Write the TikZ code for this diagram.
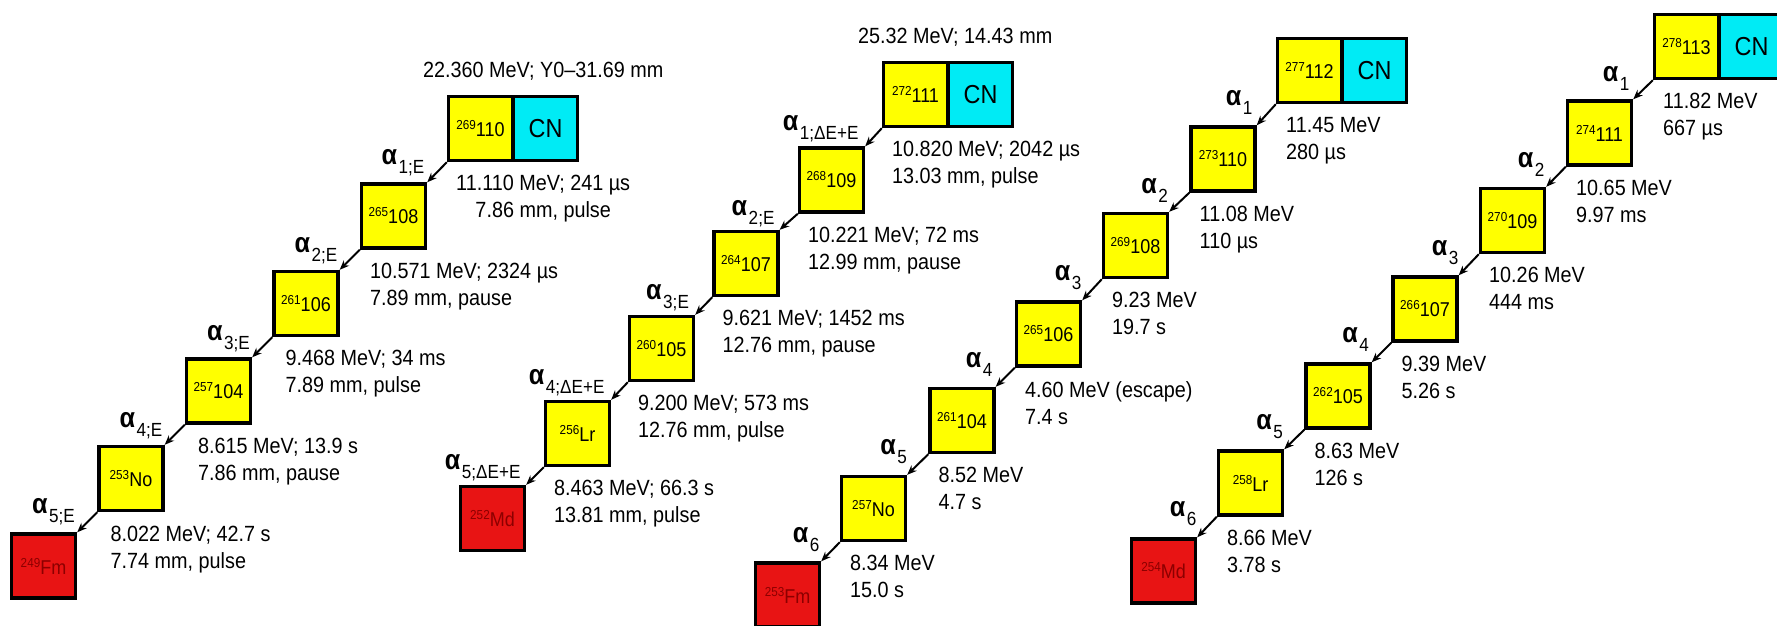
\documentclass[tikz,border=0pt]{standalone}
\usepackage{fontspec}
\setmainfont{Liberation Sans}[FakeStretch=0.9]
\usetikzlibrary{arrows.meta}
\definecolor{nucyel}{RGB}{255,255,0}
\definecolor{nuccyan}{RGB}{0,235,245}
\definecolor{nucred}{RGB}{232,20,20}
\definecolor{nucredtext}{RGB}{140,0,0}
\newcommand\nuc[2]{\raisebox{3.5pt}{\fontsize{6.5}{6.5}\selectfont #1}#2}
\newcommand\alab[1]{{\fontsize{14}{14}\selectfont\bfseries α}\hspace{0.8pt}\raisebox{-4.5pt}{\fontsize{9.5}{10}\selectfont #1}}
\begin{document}
\begin{tikzpicture}[x=0.5pt,y=-0.5pt,
  nucbox/.style={draw=black, line width=1.7pt, minimum size=32pt, inner sep=0pt, fill=nucyel, font=\fontsize{10}{12}\selectfont},
  redbox/.style={nucbox, fill=nucred, text=nucredtext},
  cnbox/.style={nucbox, fill=nuccyan, font=\fontsize{13}{14}\selectfont},
  arr/.style={line width=1pt, -{Stealth[length=4.8pt,width=3.8pt]}},
  decaytxt/.style={anchor=north west, align=left, inner sep=0pt, font=\fontsize{11}{13.5}\selectfont},
  toplab/.style={anchor=base west, inner sep=0pt, font=\fontsize{11}{13.5}\selectfont},
  alphalab/.style={anchor=base east, inner sep=0pt},
]
\useasboundingbox (0,0) rectangle (1777,626);
\clip (0,0) rectangle (1777,626);

% ---------------- chain 1 ----------------
\node[nucbox] (c1a) at (480.5,128.5) {\nuc{269}{110}};
\node[cnbox] (c1cn) at (545.5,128.5) {CN};
\node[nucbox] (c1b) at (393.5,216) {\nuc{265}{108}};
\node[nucbox] (c1c) at (306,303.5) {\nuc{261}{106}};
\node[nucbox] (c1d) at (218.5,391) {\nuc{257}{104}};
\node[nucbox] (c1e) at (131,478.5) {\nuc{253}{No}};
\node[redbox] (c1f) at (43.5,566) {\nuc{249}{Fm}};
\draw[arr] (c1a.south west) -- (c1b.north east);
\draw[arr] (c1b.south west) -- (c1c.north east);
\draw[arr] (c1c.south west) -- (c1d.north east);
\draw[arr] (c1d.south west) -- (c1e.north east);
\draw[arr] (c1e.south west) -- (c1f.north east);
\node[toplab] (c1top) at ([shift={(-24,-17)}]c1a.north west) {22.360 MeV; Y0–31.69 mm};
\node[decaytxt, align=center] (c1t1) at ([shift={(9,13)}]c1a.south west) {11.110 MeV; 241 µs\\7.86 mm, pulse};
\node[decaytxt] (c1t2) at ([shift={(10,13)}]c1b.south west) {10.571 MeV; 2324 µs\\7.89 mm, pause};
\node[decaytxt] (c1t3) at ([shift={(13,13)}]c1c.south west) {9.468 MeV; 34 ms\\7.89 mm, pulse};
\node[decaytxt] (c1t4) at ([shift={(13,13)}]c1d.south west) {8.615 MeV; 13.9 s\\7.86 mm, pause};
\node[decaytxt] (c1t5) at ([shift={(13,14)}]c1e.south west) {8.022 MeV; 42.7 s\\7.74 mm, pulse};
\node[alphalab] (c1l1) at ([shift={(-22,2)}]c1a.south west) {\alab{1;E}};
\node[alphalab] (c1l2) at ([shift={(-22,3)}]c1b.south west) {\alab{2;E}};
\node[alphalab] (c1l3) at ([shift={(-22,3)}]c1c.south west) {\alab{3;E}};
\node[alphalab] (c1l4) at ([shift={(-22,3)}]c1d.south west) {\alab{4;E}};
\node[alphalab] (c1l5) at ([shift={(-22,1)}]c1e.south west) {\alab{5;E}};

% ---------------- chain 2 ----------------
\node[nucbox] (c2a) at (915.5,94.5) {\nuc{272}{111}};
\node[cnbox] (c2cn) at (980.5,94.5) {CN};
\node[nucbox] (c2b) at (831.5,180) {\nuc{268}{109}};
\node[nucbox] (c2c) at (746,263.5) {\nuc{264}{107}};
\node[nucbox] (c2d) at (661.5,348.5) {\nuc{260}{105}};
\node[nucbox] (c2e) at (577.5,433.5) {\nuc{256}{Lr}};
\node[redbox] (c2f) at (492.5,518.5) {\nuc{252}{Md}};
\draw[arr] (c2a.south west) -- (c2b.north east);
\draw[arr] (c2b.south west) -- (c2c.north east);
\draw[arr] (c2c.south west) -- (c2d.north east);
\draw[arr] (c2d.south west) -- (c2e.north east);
\draw[arr] (c2e.south west) -- (c2f.north east);
\node[toplab] (c2top) at ([shift={(-24,-17)}]c2a.north west) {25.32 MeV; 14.43 mm};
\node[decaytxt] (c2t1) at ([shift={(10,13)}]c2a.south west) {10.820 MeV; 2042 µs\\13.03 mm, pulse};
\node[decaytxt] (c2t2) at ([shift={(10,13)}]c2b.south west) {10.221 MeV; 72 ms\\12.99 mm, pause};
\node[decaytxt] (c2t3) at ([shift={(10,13)}]c2c.south west) {9.621 MeV; 1452 ms\\12.76 mm, pause};
\node[decaytxt] (c2t4) at ([shift={(10,13)}]c2d.south west) {9.200 MeV; 573 ms\\12.76 mm, pulse};
\node[decaytxt] (c2t5) at ([shift={(10,13)}]c2e.south west) {8.463 MeV; 66.3 s\\13.81 mm, pulse};
\node[alphalab] (c2l1) at ([shift={(-23,2)}]c2a.south west) {\alab{1;ΔE+E}};
\node[alphalab] (c2l2) at ([shift={(-23,2)}]c2b.south west) {\alab{2;E}};
\node[alphalab] (c2l3) at ([shift={(-23,2)}]c2c.south west) {\alab{3;E}};
\node[alphalab] (c2l4) at ([shift={(-23,2)}]c2d.south west) {\alab{4;ΔE+E}};
\node[alphalab] (c2l5) at ([shift={(-23,2)}]c2e.south west) {\alab{5;ΔE+E}};

% ---------------- chain 3 ----------------
\node[nucbox] (c3a) at (1309.5,70.5) {\nuc{277}{112}};
\node[cnbox] (c3cn) at (1374.5,70.5) {CN};
\node[nucbox] (c3b) at (1223,159) {\nuc{273}{110}};
\node[nucbox] (c3c) at (1135.5,245.5) {\nuc{269}{108}};
\node[nucbox] (c3d) at (1048.5,334) {\nuc{265}{106}};
\node[nucbox] (c3e) at (962,420.5) {\nuc{261}{104}};
\node[nucbox] (c3f) at (873.5,508.5) {\nuc{257}{No}};
\node[redbox] (c3g) at (787.5,595) {\nuc{253}{Fm}};
\draw[arr] (c3a.south west) -- (c3b.north east);
\draw[arr] (c3b.south west) -- (c3c.north east);
\draw[arr] (c3c.south west) -- (c3d.north east);
\draw[arr] (c3d.south west) -- (c3e.north east);
\draw[arr] (c3e.south west) -- (c3f.north east);
\draw[arr] (c3f.south west) -- (c3g.north east);
\node[decaytxt] (c3t1) at ([shift={(10,13)}]c3a.south west) {11.45 MeV\\280 µs};
\node[decaytxt] (c3t2) at ([shift={(10,13)}]c3b.south west) {11.08 MeV\\110 µs};
\node[decaytxt] (c3t3) at ([shift={(10,13)}]c3c.south west) {9.23 MeV\\19.7 s};
\node[decaytxt] (c3t4) at ([shift={(10,13)}]c3d.south west) {4.60 MeV (escape)\\7.4 s};
\node[decaytxt] (c3t5) at ([shift={(10,13)}]c3e.south west) {8.52 MeV\\4.7 s};
\node[decaytxt] (c3t6) at ([shift={(10,13)}]c3f.south west) {8.34 MeV\\15.0 s};
\node[alphalab] (c3l1) at ([shift={(-23,1)}]c3a.south west) {\alab{1}};
\node[alphalab] (c3l2) at ([shift={(-21,1)}]c3b.south west) {\alab{2}};
\node[alphalab] (c3l3) at ([shift={(-20,1)}]c3c.south west) {\alab{3}};
\node[alphalab] (c3l4) at ([shift={(-22,0)}]c3d.south west) {\alab{4}};
\node[alphalab] (c3l5) at ([shift={(-21,0)}]c3e.south west) {\alab{5}};
\node[alphalab] (c3l6) at ([shift={(-20,0)}]c3f.south west) {\alab{6}};

% ---------------- chain 4 ----------------
\node[nucbox] (c4a) at (1686.5,46.5) {\nuc{278}{113}};
\node[cnbox] (c4cn) at (1751.5,46.5) {CN};
\node[nucbox] (c4b) at (1599.5,133) {\nuc{274}{111}};
\node[nucbox] (c4c) at (1512.5,220.5) {\nuc{270}{109}};
\node[nucbox] (c4d) at (1425,309) {\nuc{266}{107}};
\node[nucbox] (c4e) at (1338,396) {\nuc{262}{105}};
\node[nucbox] (c4f) at (1250.5,483) {\nuc{258}{Lr}};
\node[redbox] (c4g) at (1163.5,571) {\nuc{254}{Md}};
\draw[arr] (c4a.south west) -- (c4b.north east);
\draw[arr] (c4b.south west) -- (c4c.north east);
\draw[arr] (c4c.south west) -- (c4d.north east);
\draw[arr] (c4d.south west) -- (c4e.north east);
\draw[arr] (c4e.south west) -- (c4f.north east);
\draw[arr] (c4f.south west) -- (c4g.north east);
\node[decaytxt] (c4t1) at ([shift={(10,13)}]c4a.south west) {11.82 MeV\\667 µs};
\node[decaytxt] (c4t2) at ([shift={(10,13)}]c4b.south west) {10.65 MeV\\9.97 ms};
\node[decaytxt] (c4t3) at ([shift={(10,13)}]c4c.south west) {10.26 MeV\\444 ms};
\node[decaytxt] (c4t4) at ([shift={(10,13)}]c4d.south west) {9.39 MeV\\5.26 s};
\node[decaytxt] (c4t5) at ([shift={(10,13)}]c4e.south west) {8.63 MeV\\126 s};
\node[decaytxt] (c4t6) at ([shift={(10,13)}]c4f.south west) {8.66 MeV\\3.78 s};
\node[alphalab] (c4l1) at ([shift={(-23,1)}]c4a.south west) {\alab{1}};
\node[alphalab] (c4l2) at ([shift={(-21,1)}]c4b.south west) {\alab{2}};
\node[alphalab] (c4l3) at ([shift={(-20,1)}]c4c.south west) {\alab{3}};
\node[alphalab] (c4l4) at ([shift={(-22,0)}]c4d.south west) {\alab{4}};
\node[alphalab] (c4l5) at ([shift={(-21,0)}]c4e.south west) {\alab{5}};
\node[alphalab] (c4l6) at ([shift={(-20,0)}]c4f.south west) {\alab{6}};
\end{tikzpicture}
\end{document}
